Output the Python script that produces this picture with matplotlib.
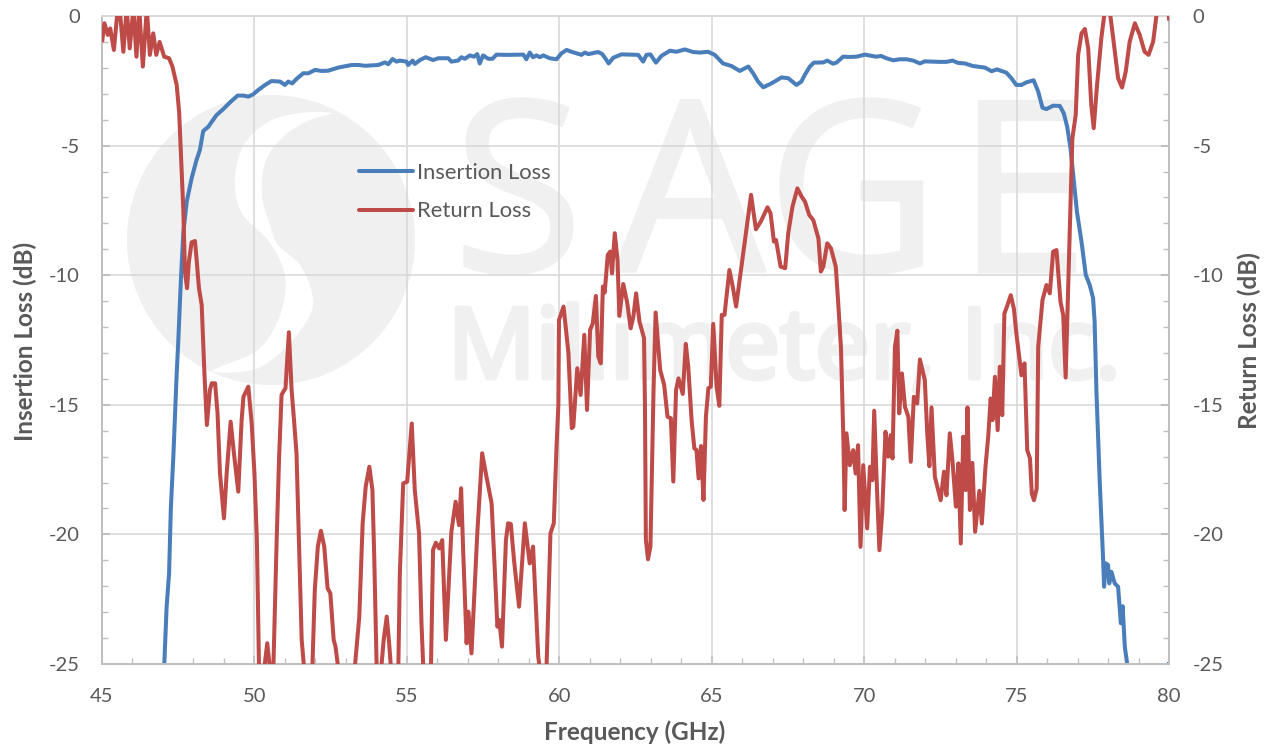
import numpy as np
import matplotlib
matplotlib.use("Agg")
import matplotlib.pyplot as plt
import matplotlib.patheffects as pe
from matplotlib.lines import Line2D
from matplotlib.patches import Ellipse, PathPatch
from matplotlib.path import Path
from matplotlib.ticker import MultipleLocator
from matplotlib.transforms import Affine2D

plt.rcParams['font.family'] = ['Lato', 'DejaVu Sans']
plt.rcParams['axes.unicode_minus'] = False

insertion_loss = [
 (47.04,-25.1),(47.12,-22.79),(47.2,-21.5),(47.26,-18.93),(47.34,-17.0),(47.45,-13.79),(47.5,-12.6),
 (47.59,-10.12),(47.67,-8.32),(47.78,-7.16),(47.94,-6.26),(48.1,-5.56),(48.21,-5.17),(48.32,-4.44),
 (48.49,-4.27),(48.6,-4.08),(48.76,-3.82),(48.98,-3.59),(49.2,-3.33),(49.45,-3.07),(49.64,-3.07),
 (49.8,-3.11),(49.96,-3.02),(50.13,-2.85),(50.35,-2.66),(50.56,-2.51),(50.84,-2.53),(51.0,-2.66),
 (51.11,-2.53),(51.24,-2.6),(51.38,-2.43),(51.6,-2.21),(51.77,-2.21),(51.99,-2.08),(52.2,-2.12),
 (52.42,-2.11),(52.75,-1.99),(53.19,-1.89),(53.41,-1.89),(53.63,-1.92),(54.06,-1.89),(54.28,-1.79),
 (54.39,-1.86),(54.53,-1.66),(54.66,-1.76),(54.77,-1.72),(54.99,-1.76),(55.04,-1.89),(55.19,-1.72),
 (55.26,-1.85),(55.43,-1.7),(55.62,-1.59),(55.86,-1.7),(56.03,-1.63),(56.36,-1.63),(56.46,-1.76),
 (56.68,-1.72),(56.79,-1.59),(56.9,-1.65),(57.07,-1.52),(57.2,-1.57),(57.31,-1.47),(57.39,-1.83),
 (57.5,-1.52),(57.67,-1.65),(57.81,-1.65),(57.94,-1.49),(58.27,-1.5),(58.82,-1.49),(58.92,-1.67),
 (59.03,-1.41),(59.14,-1.59),(59.25,-1.52),(59.36,-1.59),(59.47,-1.52),(59.69,-1.63),(59.91,-1.67),
 (60.07,-1.44),(60.24,-1.31),(60.4,-1.38),(60.56,-1.44),(60.73,-1.5),(60.84,-1.41),(60.95,-1.47),
 (61.28,-1.39),(61.41,-1.47),(61.53,-1.67),(61.62,-1.83),(61.77,-1.61),(62.04,-1.48),(62.59,-1.5),
 (62.75,-1.76),(62.86,-1.5),(62.99,-1.48),(63.17,-1.8),(63.35,-1.54),(63.63,-1.34),(63.84,-1.38),
 (64.12,-1.29),(64.39,-1.39),(64.61,-1.41),(64.88,-1.38),(65.1,-1.5),(65.37,-1.83),(65.65,-1.93),
 (65.92,-2.12),(66.2,-1.95),(66.36,-2.21),(66.52,-2.53),(66.69,-2.75),(66.96,-2.6),(67.29,-2.37),
 (67.51,-2.4),(67.78,-2.66),(67.94,-2.53),(68.05,-2.28),(68.22,-1.95),(68.35,-1.8),(68.66,-1.79),
 (68.79,-1.72),(68.98,-1.84),(69.09,-1.8),(69.31,-1.57),(69.53,-1.58),(69.75,-1.57),(70.02,-1.49),
 (70.4,-1.57),(70.55,-1.54),(70.73,-1.63),(70.95,-1.71),(71.17,-1.67),(71.39,-1.67),(71.61,-1.72),
 (71.83,-1.83),(71.99,-1.75),(72.26,-1.76),(72.48,-1.77),(72.7,-1.77),(72.9,-1.72),(73.08,-1.81),
 (73.3,-1.83),(73.57,-1.93),(73.96,-1.99),(74.18,-2.13),(74.36,-2.06),(74.67,-2.19),(74.83,-2.4),
 (74.99,-2.66),(75.16,-2.66),(75.32,-2.56),(75.56,-2.48),(75.71,-2.92),(75.85,-3.54),(75.98,-3.59),
 (76.2,-3.46),(76.42,-3.47),(76.55,-3.76),(76.66,-4.27),(76.77,-5.11),(76.88,-6.39),(76.98,-7.55),
 (77.13,-8.71),(77.27,-9.99),(77.4,-10.38),(77.51,-10.89),(77.56,-11.79),(77.62,-14.5),(77.73,-18.03),
 (77.84,-21.0),(77.87,-22.02),(77.93,-21.12),(78.0,-21.18),(78.04,-21.89),(78.11,-21.44),(78.22,-21.89),
 (78.33,-22.02),(78.42,-23.43),(78.48,-22.77),(78.55,-24.33),(78.64,-25.1),(78.8,-27.0),(79.9,-30.0),
 (80.0,-25.0),
]

return_loss = [
 (45.01,-0.93),(45.08,-0.28),(45.19,-0.73),(45.27,-0.48),(45.39,-1.31),(45.51,0.2),(45.58,0.3),
 (45.7,-1.38),(45.81,0.3),(45.91,-1.25),(46.03,0.3),(46.13,-1.57),(46.22,0.3),(46.34,-1.95),(46.47,0.3),
 (46.57,-1.5),(46.68,-0.67),(46.78,-1.5),(46.89,-1.0),(47.04,-1.57),(47.2,-1.63),(47.31,-1.95),
 (47.45,-2.66),(47.53,-3.7),(47.59,-5.36),(47.67,-7.55),(47.72,-9.86),(47.79,-10.5),(47.85,-9.48),
 (47.94,-8.73),(48.05,-8.68),(48.1,-9.35),(48.18,-10.5),(48.27,-11.15),(48.32,-12.6),(48.36,-13.79),
 (48.44,-15.78),(48.54,-14.43),(48.6,-14.17),(48.71,-14.17),(48.79,-15.33),(48.87,-17.64),(49.0,-19.38),
 (49.09,-17.64),(49.22,-15.65),(49.34,-17.0),(49.47,-18.35),(49.58,-15.59),(49.64,-14.69),(49.8,-14.3),
 (49.91,-15.72),(50.0,-17.64),(50.08,-20.2),(50.15,-25.1),(50.29,-25.5),(50.42,-24.2),(50.51,-25.17),
 (50.62,-25.2),(50.73,-20.2),(50.81,-17.0),(50.89,-14.62),(50.95,-14.49),(51.02,-14.36),(51.13,-12.2),
 (51.22,-14.43),(51.29,-15.46),(51.38,-16.87),(51.46,-20.2),(51.55,-24.07),(51.63,-25.17),(51.77,-25.6),
 (51.9,-25.17),(51.98,-22.15),(52.08,-20.47),(52.18,-19.86),(52.29,-20.47),(52.4,-22.08),(52.49,-22.27),
 (52.6,-24.07),(52.66,-24.33),(52.75,-25.17),(53.02,-25.7),(53.29,-25.17),(53.44,-23.17),(53.55,-19.57),
 (53.65,-18.16),(53.77,-17.39),(53.87,-18.29),(53.93,-20.86),(54.01,-25.17),(54.12,-25.7),(54.24,-24.07),
 (54.34,-23.17),(54.41,-24.07),(54.48,-25.17),(54.61,-25.7),(54.72,-25.17),(54.77,-21.5),(54.88,-18.03),
 (55.01,-17.97),(55.16,-15.72),(55.26,-18.29),(55.4,-19.96),(55.48,-23.43),(55.54,-25.17),(55.67,-25.7),
 (55.79,-25.17),(55.86,-20.6),(55.95,-20.32),(56.06,-20.54),(56.16,-20.22),(56.28,-24.07),(56.39,-21.5),
 (56.46,-19.9),(56.6,-18.74),(56.71,-19.64),(56.78,-18.22),(56.85,-20.73),(56.96,-24.2),(57.02,-22.98),
 (57.12,-24.59),(57.31,-19.96),(57.47,-16.87),(57.61,-17.77),(57.78,-18.8),(57.89,-21.5),(57.97,-23.56),
 (58.03,-23.3),(58.12,-24.33),(58.25,-20.22),(58.32,-19.57),(58.41,-19.6),(58.52,-21.05),(58.68,-22.79),
 (58.77,-21.25),(58.87,-19.57),(59.03,-21.12),(59.14,-20.47),(59.31,-24.72),(59.36,-25.17),(59.47,-25.7),
 (59.58,-25.17),(59.71,-19.96),(59.82,-19.57),(59.91,-16.6),(59.97,-15.0),(59.99,-11.73),(60.14,-11.21),
 (60.3,-13.0),(60.41,-15.9),(60.46,-15.84),(60.59,-13.59),(60.7,-14.62),(60.82,-12.3),(60.91,-15.2),
 (61.01,-12.11),(61.1,-11.86),(61.2,-10.8),(61.28,-13.14),(61.36,-13.4),(61.43,-10.44),(61.49,-10.67),
 (61.59,-9.22),(61.67,-9.09),(61.73,-9.93),(61.82,-8.38),(61.91,-9.41),(61.97,-11.57),(62.1,-10.34),
 (62.23,-11.08),(62.34,-12.05),(62.43,-11.6),(62.52,-10.7),(62.63,-11.79),(62.78,-12.43),(62.81,-15.0),
 (62.84,-20.2),(62.91,-20.96),(62.99,-20.47),(63.05,-17.0),(63.09,-14.5),(63.16,-11.44),(63.31,-13.66),
 (63.44,-14.23),(63.55,-15.46),(63.66,-15.52),(63.74,-17.96),(63.83,-14.43),(63.91,-13.98),(64.05,-14.58),
 (64.15,-12.65),(64.23,-13.53),(64.34,-15.59),(64.43,-16.68),(64.5,-16.74),(64.57,-17.84),(64.65,-16.59),
 (64.73,-18.67),(64.81,-15.46),(64.89,-14.36),(64.97,-14.3),(65.05,-11.88),(65.16,-14.3),(65.25,-15.04),
 (65.33,-11.53),(65.42,-11.53),(65.58,-9.8),(65.69,-10.44),(65.8,-11.21),(65.96,-9.8),(66.15,-8.13),
 (66.29,-6.9),(66.45,-8.23),(66.61,-7.93),(66.83,-7.38),(66.93,-7.61),(67.04,-8.7),(67.11,-8.64),
 (67.26,-9.67),(67.41,-9.73),(67.51,-8.38),(67.65,-7.35),(67.81,-6.65),(67.95,-6.97),(68.06,-7.16),
 (68.2,-7.68),(68.33,-7.87),(68.5,-8.58),(68.58,-9.86),(68.66,-9.67),(68.79,-8.77),(68.91,-8.96),
 (69.07,-9.67),(69.15,-11.08),(69.24,-12.8),(69.32,-16.36),(69.36,-19.06),(69.42,-16.1),(69.53,-17.33),
 (69.64,-16.75),(69.72,-17.65),(69.8,-16.56),(69.88,-20.48),(69.97,-17.33),(70.1,-19.77),(70.19,-17.39),
 (70.27,-17.91),(70.33,-15.23),(70.41,-17.91),(70.5,-20.61),(70.59,-19.19),(70.7,-16.04),(70.79,-17.0),
 (70.87,-16.17),(70.93,-17.07),(71.01,-12.76),(71.09,-12.14),(71.15,-15.33),(71.24,-13.79),(71.34,-15.08),
 (71.45,-15.46),(71.53,-17.2),(71.63,-14.69),(71.74,-14.95),(71.83,-13.25),(71.99,-14.05),(72.07,-16.1),
 (72.14,-17.37),(72.21,-15.1),(72.32,-17.78),(72.51,-18.68),(72.62,-17.58),(72.7,-18.49),(72.81,-16.1),
 (72.9,-17.2),(73.01,-18.93),(73.09,-17.26),(73.17,-20.35),(73.25,-16.23),(73.33,-18.29),(73.39,-15.1),
 (73.47,-19.06),(73.55,-17.24),(73.64,-19.9),(73.78,-18.32),(73.86,-19.58),(73.98,-17.39),(74.07,-16.23),
 (74.15,-14.76),(74.21,-15.59),(74.29,-13.92),(74.38,-15.98),(74.45,-13.53),(74.53,-15.4),(74.6,-11.48),
 (74.69,-11.19),(74.81,-10.77),(74.91,-11.28),(75.0,-12.31),(75.16,-13.86),(75.26,-13.4),(75.35,-16.75),
 (75.44,-17.07),(75.5,-18.42),(75.57,-18.68),(75.66,-18.23),(75.71,-12.76),(75.85,-10.96),(75.98,-10.38),
 (76.09,-10.7),(76.2,-9.09),(76.31,-9.03),(76.44,-11.02),(76.53,-11.54),(76.61,-13.95),(76.74,-8.58),
 (76.83,-4.72),(76.94,-3.82),(77.02,-1.5),(77.13,-0.67),(77.24,-0.5),(77.35,-1.25),(77.45,-3.43),
 (77.53,-4.33),(77.64,-2.66),(77.78,-0.86),(77.89,0.17),(78.06,0.17),(78.17,-0.86),(78.33,-2.4),
 (78.46,-2.76),(78.58,-2.15),(78.71,-0.99),(78.88,-0.28),(79.04,-0.73),(79.2,-1.38),(79.33,-1.5),
 (79.48,-0.99),(79.59,0.04),(79.7,0.4),(79.98,0.4),(80.0,-0.1),
]

il_freq, il_db = zip(*insertion_loss)
rl_freq, rl_db = zip(*return_loss)
x_ticks = [45, 50, 55, 60, 65, 70, 75, 80]
y_ticks = [0, -5, -10, -15, -20, -25]
series_names = ['Insertion Loss', 'Return Loss']

W, H = 1270, 746
L, R, T, B = 102, 1169, 16, 664
TXT = '#595959'
GRID = '#D9D9D9'
AX = '#BFBFBF'
MARK = '#F0F0F0'

fig = plt.figure(figsize=(W/100, H/100), dpi=100, facecolor='white')

# watermark, drawn under the axes
px = Affine2D().scale(1, -1).translate(0, H)
fig.add_artist(Ellipse((271, 240), 288, 290, fc=MARK, ec='none', transform=px, zorder=-2))

def smooth_closed(pts):
    p = np.array(pts, float)
    n = len(p)
    verts, codes = [p[0]], [Path.MOVETO]
    for i in range(n):
        p0, p1, p2, p3 = p[(i-1) % n], p[i], p[(i+1) % n], p[(i+2) % n]
        verts += [p1 + (p2-p0)/6, p2 - (p3-p1)/6, p2]
        codes += [Path.CURVE4]*3
    return Path(verts, codes)

swirl = [(332,113),(300,113),(268,122),(244,145),(235,178),(241,212),(268,240),(283,268),(285,295),
         (275,327),(255,352),(212,371),(256,369),(288,345),(310,315),(312,293),(300,265),(278,245),
         (270,225),(262,195),(266,160),(285,135),(310,120)]
fig.add_artist(PathPatch(smooth_closed(swirl), fc='white', ec='none', transform=px, zorder=-1.5))

for ch, cx in zip('SAGE', [518, 690, 853, 1022]):
    fig.text(cx/W, 1-271/H, ch, fontsize=171, family='Open Sans', color=MARK,
             ha='center', va='baseline', zorder=-1,
             path_effects=[pe.withStroke(linewidth=2.5, foreground=MARK)])
fig.text(784/W, 1-378/H, 'Millimeter, Inc.', fontsize=70.5, family='Open Sans', color=MARK,
         ha='center', va='baseline', zorder=-1,
         path_effects=[pe.withStroke(linewidth=3.5, foreground=MARK)])

ax = fig.add_axes([L/W, 1-B/H, (R-L)/W, (B-T)/H])
ax2 = ax.twinx()
for a in (ax, ax2):
    a.patch.set_alpha(0)
    a.set_xlim(45, 80)
    a.set_ylim(-25, 0)
    a.yaxis.set_major_locator(MultipleLocator(5))
    a.yaxis.set_minor_locator(MultipleLocator(1))
    for s in a.spines.values():
        s.set_color(AX)
        s.set_linewidth(1.4)
    a.spines['top'].set_color(GRID)
ax.set_axisbelow(True)
ax.set_xticks(x_ticks)
ax.set_yticks(y_ticks)
ax2.set_yticks(y_ticks)
ax.xaxis.set_minor_locator(MultipleLocator(1))
ax.grid(True, which='major', color=GRID, lw=1.2)
ax.tick_params(axis='x', which='major', direction='in', length=6, width=1.2, color=AX,
               labelsize=14.5, labelcolor=TXT, pad=17)
ax.tick_params(axis='x', which='minor', direction='in', length=4.5, width=1, color=AX)
ax.tick_params(axis='y', which='major', direction='in', length=6, width=1.4, color=AX,
               labelsize=14.5, labelcolor=TXT, pad=16)
ax.tick_params(axis='y', which='minor', direction='in', length=4, width=1, color=AX)
ax2.tick_params(axis='y', which='major', direction='in', length=6, width=1.4, color=AX,
                labelsize=14.5, labelcolor=TXT, pad=17)
ax2.tick_params(axis='y', which='minor', direction='in', length=4, width=1, color=AX)

ax.set_xlabel('Frequency (GHz)', fontsize=17.5, fontweight='bold', color=TXT)
ax.set_ylabel('Insertion Loss (dB)', fontsize=17.5, fontweight='bold', color=TXT)
ax2.set_ylabel('Return Loss (dB)', fontsize=17.5, fontweight='bold', color=TXT)
ax.yaxis.set_label_coords((25-L)/(R-L), (B-341)/(B-T))
ax2.yaxis.set_label_coords((1249-L)/(R-L), (B-341)/(B-T))
ax.xaxis.set_label_coords((635-L)/(R-L), (B-732)/(B-T))
ax.xaxis.label.set_va('center')
ax.yaxis.label.set_va('center')
ax2.yaxis.label.set_va('center')

BLUE, RED = '#4A7EBB', '#BE4B48'
ax.plot(il_freq, il_db, color=BLUE, lw=2.9, solid_joinstyle='round', zorder=3)
ax2.plot(rl_freq, rl_db, color=RED, lw=2.9, solid_joinstyle='round', zorder=3)

handles = [Line2D([], [], color=BLUE, lw=2.9, solid_capstyle='round'),
           Line2D([], [], color=RED, lw=2.9, solid_capstyle='round')]
ax2.legend(handles, series_names, loc='center left', frameon=False, fontsize=15.8, labelcolor=TXT,
           bbox_to_anchor=((359-L)/(R-L), (B-192)/(B-T)), borderpad=0, borderaxespad=0,
           handlelength=2.45, handletextpad=0.2, labelspacing=0.85)

fig.savefig('out.png', dpi=100, facecolor='white')
